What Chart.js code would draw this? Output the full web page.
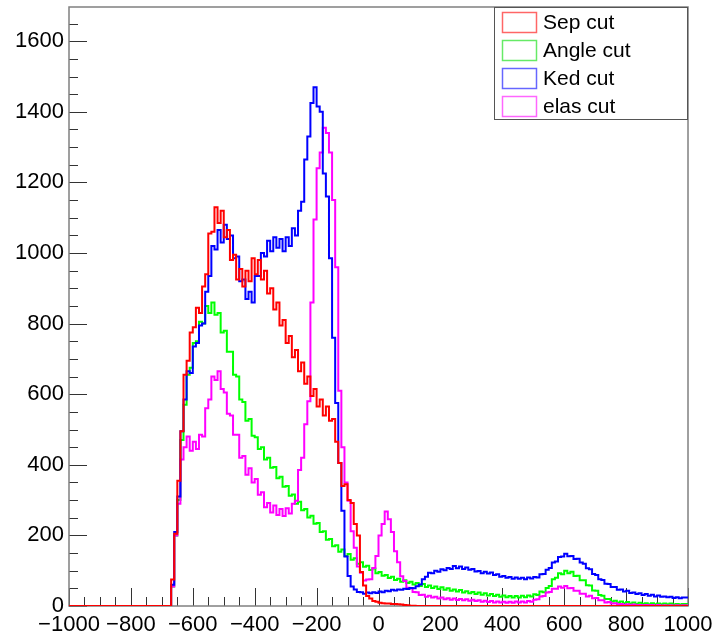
<!DOCTYPE html>
<html>
<head>
<meta charset="utf-8">
<script src="https://cdn.jsdelivr.net/npm/chart.js@4.4.1/dist/chart.umd.min.js"></script>
<style>
    html, body { margin: 0; padding: 0; background: #ffffff; }
</style>
</head>
<body>
<canvas id="histo" width="716" height="641"></canvas>
<script>
// Histogram binning (10 units per bin, first bin starts at -670)
const X_MIN = -1000;
const X_MAX = 1000;
const Y_MAX = 1697;
const BIN_START = -670;
const BIN_WIDTH = 10;

const xTickValues = [-1000, -800, -600, -400, -200, 0, 200, 400, 600, 800, 1000];
const yTickValues = [0, 200, 400, 600, 800, 1000, 1200, 1400, 1600];
const legendLabels = ['Sep cut', 'Angle cut', 'Ked cut', 'elas cut'];

// Bin contents (one row = 10 bins)
const sepCut = [
    0, 75, 205, 355, 495, 655, 695, 775, 790, 845,
    830, 905, 940, 1055, 1060, 1130, 1085, 1120, 1045, 1065,
    980, 995, 925, 955, 905, 950, 920, 985, 940, 980,
    925, 950, 885, 900, 840, 860, 795, 810, 745, 765,
    705, 725, 665, 690, 630, 650, 595, 615, 565, 585,
    540, 565, 525, 530, 465, 405, 340, 345, 300, 292,
    232, 200, 96, 58, 28, 21, 14, 12, 9, 8,
    7, 7, 6, 6, 5, 4, 3, 2, 1, 1,
    0, 0, 0, 0, 0, 0, 0, 0, 0, 0,
    0, 0, 0, 0, 0, 0, 0, 0, 0, 0,
    0, 0, 0, 0, 0, 0, 0, 0, 0, 0,
    0, 0, 0, 0, 0, 0, 0, 0, 0, 0,
    0, 0, 0, 0, 0, 0, 0, 0, 0, 0,
    0, 0, 0, 0, 0, 0, 0, 0, 0, 0,
    0, 0, 0, 0, 0, 0, 0, 0, 0, 0,
    0, 0, 0, 0, 0, 0, 0, 0, 0, 0,
    0, 0, 0, 0, 0, 0, 0
];

const angleCut = [
    0, 55, 200, 300, 470, 570, 655, 675, 745, 750,
    805, 800, 850, 830, 860, 825, 830, 775, 780, 720,
    720, 655, 650, 585, 578, 525, 530, 482, 478, 445,
    450, 415, 420, 392, 394, 362, 366, 338, 340, 312,
    316, 290, 295, 271, 275, 251, 256, 233, 235, 210,
    212, 188, 190, 169, 172, 154, 160, 142, 147, 131,
    135, 120, 124, 111, 114, 102, 106, 93, 96, 86,
    88, 79, 83, 74, 77, 69, 73, 65, 69, 61,
    65, 57, 62, 54, 58, 51, 55, 48, 53, 46,
    50, 43, 47, 41, 45, 38, 42, 36, 40, 34,
    38, 32, 36, 30, 34, 28, 32, 26, 30, 25,
    28, 24, 28, 24, 29, 25, 30, 27, 33, 31,
    41, 39, 51, 57, 76, 80, 93, 90, 100, 93,
    97, 85, 86, 73, 73, 59, 58, 44, 43, 31,
    29, 20, 20, 13, 15, 10, 13, 8, 11, 7,
    10, 6, 9, 6, 8, 5, 8, 5, 7, 5,
    7, 5, 7, 4, 6, 4, 6
];

const kedCut = [
    0, 60, 210, 310, 495, 585, 665, 660, 735, 745,
    795, 800, 890, 935, 1020, 1010, 1065, 1030, 1080, 1040,
    1050, 985, 990, 920, 925, 870, 890, 860, 935, 935,
    1000, 990, 1035, 1005, 1045, 1015, 1040, 1005, 1045, 1020,
    1070, 1050, 1120, 1145, 1265, 1330, 1425, 1470, 1415, 1400,
    1225, 1160, 985, 760, 575, 405, 270, 140, 85, 55,
    47, 40, 39, 35, 38, 36, 39, 37, 41, 39,
    43, 42, 46, 44, 47, 46, 49, 48, 51, 50,
    56, 61, 76, 83, 94, 93, 100, 97, 104, 101,
    108, 105, 113, 107, 112, 105, 109, 103, 105, 98,
    99, 93, 97, 92, 95, 88, 90, 83, 85, 80,
    82, 77, 81, 77, 80, 76, 81, 78, 82, 81,
    90, 91, 103, 108, 123, 126, 139, 140, 148, 141,
    142, 133, 134, 123, 120, 107, 104, 91, 88, 76,
    74, 63, 62, 54, 54, 46, 47, 41, 43, 37,
    38, 34, 36, 31, 34, 29, 32, 27, 30, 26,
    27, 25, 26, 23, 25, 22, 24
];

const elasCut = [
    0, 55, 200, 290, 415, 450, 480, 440, 465, 445,
    485, 480, 560, 585, 650, 640, 665, 615, 605, 545,
    540, 485, 485, 420, 425, 372, 390, 350, 360, 315,
    322, 280, 292, 265, 285, 258, 275, 255, 277, 262,
    290, 298, 385, 420, 515, 580, 860, 1095, 1240, 1285,
    1355, 1340, 1285, 1150, 960, 610, 450, 350, 298, 212,
    165, 112, 94, 72, 75, 76, 108, 142, 200, 232,
    268, 246, 210, 155, 124, 84, 71, 52, 50, 40,
    39, 31, 32, 26, 29, 24, 26, 21, 24, 19,
    22, 18, 21, 17, 20, 16, 19, 15, 18, 14,
    16, 12, 15, 11, 14, 10, 13, 10, 12, 9,
    12, 9, 13, 10, 13, 10, 14, 12, 18, 19,
    27, 28, 38, 40, 49, 49, 55, 52, 57, 50,
    51, 43, 43, 35, 35, 27, 29, 22, 23, 16,
    16, 10, 11, 7, 8, 5, 6, 3, 5, 3,
    4, 2, 3, 2, 3, 2, 3, 1, 3, 1,
    2, 1, 2, 1, 2, 1, 2
];

const binLow = sepCut.map((_, i) => BIN_START + i * BIN_WIDTH);

// histogram outline: empty from X_MIN, then one step per bin up to X_MAX
function toSteps(values) {
    const pts = [{ x: X_MIN, y: 0 }];
    values.forEach((v, i) => pts.push({ x: binLow[i], y: v }));
    pts.push({ x: X_MAX, y: values[values.length - 1] });
    return pts;
}

function minusLabel(v) {
    return v < 0 ? '\u2212' + Math.abs(v) : String(v);
}

const FONT = '"Liberation Sans", Arial, sans-serif';

// ROOT-like frame with inward ticks, drawn under the histograms
const rootFrame = {
    id: 'rootFrame',
    beforeDatasetsDraw(chart) {
        const ctx = chart.ctx;
        const a = chart.chartArea;
        const xs = chart.scales.x;
        const ys = chart.scales.y;
        ctx.save();

        ctx.strokeStyle = '#333333';
        ctx.lineWidth = 1;
        ctx.beginPath();
        for (let v = X_MIN; v <= X_MAX; v += 50) {
            const px = Math.round(xs.getPixelForValue(v)) + 0.5;
            const len = v % 200 === 0 ? 18 : 9;
            ctx.moveTo(px, a.bottom);
            ctx.lineTo(px, a.bottom - len);
        }
        for (let v = 0; v <= Y_MAX; v += 50) {
            const py = Math.round(ys.getPixelForValue(v)) + 0.5;
            const len = v % 200 === 0 ? 18 : 9;
            ctx.moveTo(a.left, py);
            ctx.lineTo(a.left + len, py);
        }
        ctx.stroke();

        ctx.strokeStyle = '#808080';
        ctx.lineWidth = 1.5;
        ctx.strokeRect(a.left, a.top, a.right - a.left, a.bottom - a.top);
        ctx.restore();
    },
    // legend box in the top right corner
    afterDraw(chart) {
        const ctx = chart.ctx;
        const a = chart.chartArea;
        ctx.save();
        const lx = 494, ly = a.top, lw = a.right - 494, lh = 112;
        ctx.fillStyle = '#ffffff';
        ctx.fillRect(lx, ly, lw, lh);
        ctx.strokeStyle = '#555555';
        ctx.lineWidth = 1;
        ctx.strokeRect(lx + 0.5, ly + 0.5, lw - 1, lh);

        ctx.font = '21px ' + FONT;
        ctx.textBaseline = 'middle';
        ctx.textAlign = 'left';
        chart.data.datasets.forEach((ds, i) => {
            const rowY = ly + 5 + i * 28;
            ctx.strokeStyle = ds.swatch;
            ctx.lineWidth = 1.5;
            ctx.strokeRect(502.5, rowY + 0.5, 34, 20);
            ctx.fillStyle = '#000000';
            ctx.fillText(ds.label, 543, rowY + 11);
        });
        ctx.restore();
    }
};

const ctx = document.getElementById('histo');
new Chart(ctx, {
    type: 'line',
    data: {
        datasets: [
            { label: legendLabels[0], data: toSteps(sepCut), borderColor: '#ff0000', swatch: 'rgba(255,0,0,0.6)', order: 0 },
            { label: legendLabels[1], data: toSteps(angleCut), borderColor: '#00ff00', swatch: 'rgba(0,220,0,0.6)', order: 3 },
            { label: legendLabels[2], data: toSteps(kedCut), borderColor: '#0000ff', swatch: 'rgba(0,0,255,0.6)', order: 1 },
            { label: legendLabels[3], data: toSteps(elasCut), borderColor: '#ff00ff', swatch: 'rgba(255,0,255,0.6)', order: 2 }
        ]
    },
    options: {
        responsive: false,
        animation: false,
        devicePixelRatio: 1,
        layout: { padding: { top: 7, right: 28, left: 0, bottom: 0 } },
        elements: {
            line: { borderWidth: 2, stepped: 'after', fill: false, tension: 0 },
            point: { radius: 0, hoverRadius: 0 }
        },
        plugins: {
            legend: { display: false },
            tooltip: { enabled: false }
        },
        scales: {
            x: {
                type: 'linear',
                min: X_MIN,
                max: X_MAX,
                grid: { display: false, drawTicks: false },
                border: { display: false },
                afterBuildTicks(scale) { scale.ticks = xTickValues.map(v => ({ value: v })); },
                afterFit(scale) {
                    scale.height = 35;
                    scale.paddingLeft = 0;
                    scale.paddingRight = 0;
                },
                ticks: {
                    autoSkip: false,
                    maxRotation: 0,
                    padding: 6,
                    color: '#000000',
                    font: { family: FONT, size: 22 },
                    callback: v => minusLabel(v)
                }
            },
            y: {
                type: 'linear',
                min: 0,
                max: Y_MAX,
                grid: { display: false, drawTicks: false },
                border: { display: false },
                afterBuildTicks(scale) { scale.ticks = yTickValues.map(v => ({ value: v })); },
                afterFit(scale) {
                    scale.width = 69;
                    scale.paddingTop = 0;
                    scale.paddingBottom = 0;
                },
                ticks: {
                    padding: 5,
                    color: '#000000',
                    font: { family: FONT, size: 22 },
                    callback: v => String(v)
                }
            }
        }
    },
    plugins: [rootFrame]
});
</script>
</body>
</html>
